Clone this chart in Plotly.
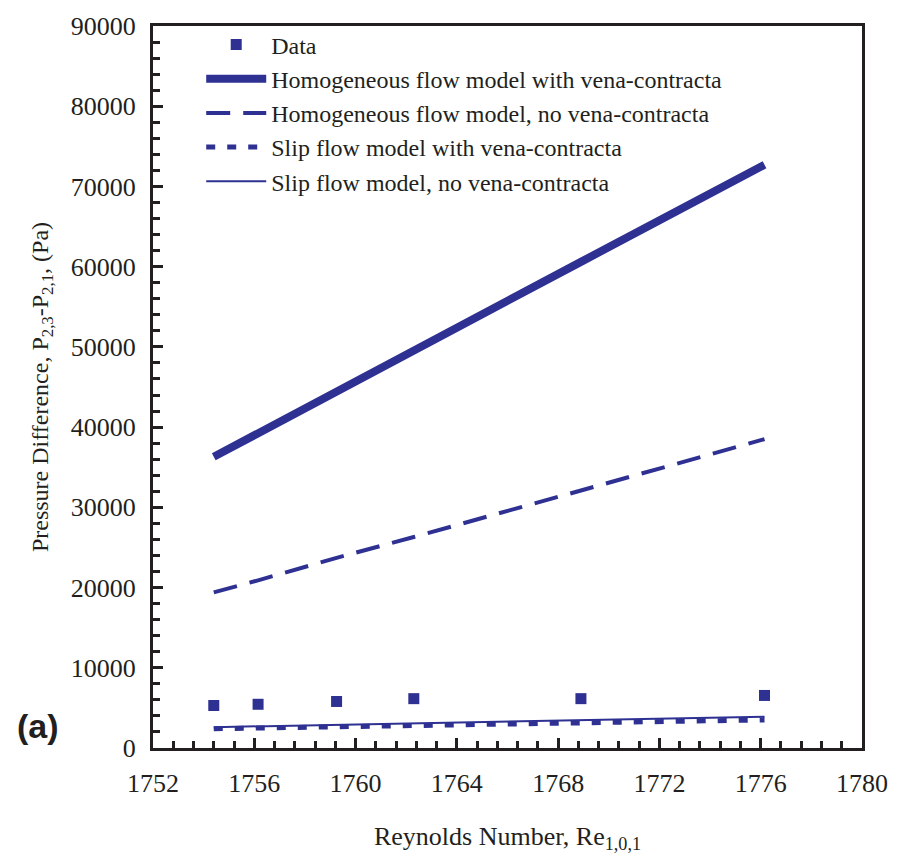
import plotly.graph_objects as go

# ---- data ----
re_x = [1754.4, 1756.15, 1759.25, 1762.3, 1768.9, 1776.15]
data_dp = [5300, 5450, 5800, 6150, 6150, 6550]
homog_vc = [36300, 39200, 44400, 49500, 60600, 72700]
homog_novc = [19400, 20900, 23700, 26300, 32100, 38500]
slip_vc = [2400, 2500, 2650, 2800, 3150, 3500]
slip_novc = [2600, 2700, 2900, 3100, 3500, 3900]

x_ticks = [1752, 1756, 1760, 1764, 1768, 1772, 1776, 1780]
y_ticks = [0, 10000, 20000, 30000, 40000, 50000, 60000, 70000, 80000, 90000]

BLUE = "#2e3192"
INK = "#231f20"
SERIF = "Liberation Serif"

fig = go.Figure()
fig.add_trace(go.Scatter(x=re_x, y=data_dp, mode="markers", name="Data",
                         marker=dict(symbol="square", size=11, color=BLUE)))
fig.add_trace(go.Scatter(x=re_x, y=homog_vc, mode="lines",
                         name="Homogeneous flow model with vena-contracta",
                         line=dict(color=BLUE, width=8)))
fig.add_trace(go.Scatter(x=re_x, y=homog_novc, mode="lines",
                         name="Homogeneous flow model, no vena-contracta",
                         line=dict(color=BLUE, width=4, dash="24px,13px")))
fig.add_trace(go.Scatter(x=re_x, y=slip_vc, mode="lines",
                         name="Slip flow model with vena-contracta",
                         line=dict(color=BLUE, width=5, dash="9px,12px")))
fig.add_trace(go.Scatter(x=re_x, y=slip_novc, mode="lines",
                         name="Slip flow model, no vena-contracta",
                         line=dict(color=BLUE, width=2)))

axis_common = dict(
    showgrid=False, zeroline=False, showline=True, linecolor=INK, linewidth=3,
    mirror=True, ticks="inside", tickcolor=INK, tickwidth=3, ticklen=10,
    tickfont=dict(family=SERIF, size=26, color=INK),
)

fig.update_layout(
    width=900, height=858,
    margin=dict(l=153, r=31, t=23, b=106),
    paper_bgcolor="white", plot_bgcolor="white",
    showlegend=True,
    legend=dict(x=0.068, y=1.005, xanchor="left", yanchor="top",
                bgcolor="rgba(0,0,0,0)", itemwidth=60,
                font=dict(family=SERIF, size=24, color=INK)),
    xaxis=dict(range=[1752, 1780], tickvals=x_ticks,
               ticktext=[str(v) for v in x_ticks], ticklabelstandoff=10,
               ticklabeloverflow="allow",
               minor=dict(dtick=0.8, tick0=1752, ticks="inside", ticklen=7,
                          tickwidth=3, tickcolor=INK),
               title=dict(text="Reynolds Number, Re<sub>1,0,1</sub>",
                          font=dict(family=SERIF, size=26, color=INK), standoff=30),
               **axis_common),
    yaxis=dict(range=[0, 90000], tickvals=y_ticks,
               ticktext=[str(v) for v in y_ticks], ticklabelstandoff=9,
               ticklabeloverflow="allow",
               minor=dict(dtick=2000, tick0=0, ticks="inside", ticklen=7,
                          tickwidth=3, tickcolor=INK),
               title=dict(text="Pressure Difference, P<sub>2,3</sub>-P<sub>2,1</sub>, (Pa)",
                          font=dict(family=SERIF, size=24, color=INK), standoff=16),
               **axis_common),
)

fig.add_annotation(text="<b>(a)</b>", xref="paper", yref="paper",
                   x=-0.162, y=0.030, xanchor="center", yanchor="middle",
                   showarrow=False,
                   font=dict(family="Liberation Sans", size=34, color=INK))

# remove the browser's default 8px body margin so the figure fills the window exactly
fig.write_html("out.html", config={"displayModeBar": False},
               post_script="document.body.style.margin='0px';")
